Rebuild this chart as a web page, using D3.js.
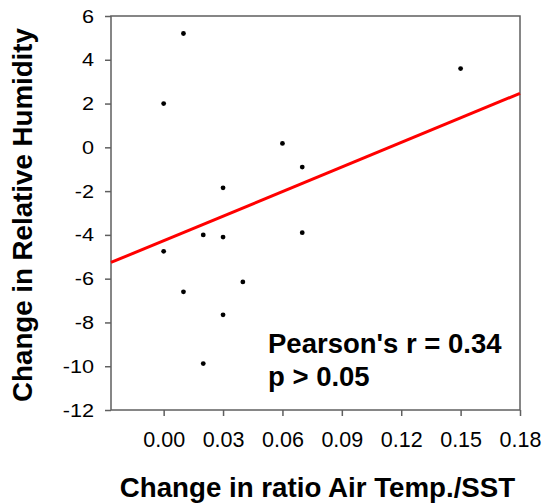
<!DOCTYPE html>
<html>
<head>
<meta charset="utf-8">
<script src="https://cdnjs.cloudflare.com/ajax/libs/d3/7.8.5/d3.min.js"></script>
<style>
  html, body { margin: 0; padding: 0; background: #fff; }
  svg { display: block; }
  text { font-family: "Liberation Sans", Arial, sans-serif; fill: #000; }
</style>
</head>
<body>
<svg id="chart" width="546" height="504"></svg>
<script>
// ---- data ----
const xValues = [0.01, 0.00, 0.15, 0.06, 0.07, 0.03, 0.02, 0.03, 0.07, 0.00, 0.01, 0.04, 0.03, 0.02];
const yValues = [5.2, 2.0, 3.6, 0.18, -0.9, -1.85, -4.0, -4.1, -3.9, -4.75, -6.6, -6.15, -7.65, -9.88];
const xTicks = [0.00, 0.03, 0.06, 0.09, 0.12, 0.15, 0.18];
const yTicks = [6, 4, 2, 0, -2, -4, -6, -8, -10, -12];
const xDomain = [-0.0266, 0.18];
const yDomain = [-12, 6];
const fitIntercept = -4.265;
const fitSlope = 37.4;
const annotation = ["Pearson's r = 0.34", "p > 0.05"];
const xTitle = "Change in ratio Air Temp./SST";
const yTitle = "Change in Relative Humidity";

// ---- layout ----
const mLeft = 111, mRight = 520, mTop = 16, mBottom = 410;
const svg = d3.select("#chart");

const x = d3.scaleLinear().domain(xDomain).range([mLeft, mRight]);
const y = d3.scaleLinear().domain(yDomain).range([mBottom, mTop]);

const axisColor = "#5f5f5f";

// frame
svg.append("rect")
  .attr("x", mLeft).attr("y", mTop)
  .attr("width", mRight - mLeft).attr("height", mBottom - mTop)
  .attr("fill", "none").attr("stroke", axisColor).attr("stroke-width", 1.5);

// y axis
const ySx = 1.14;
const gy = svg.append("g").attr("transform", `translate(${mLeft},0)`)
  .call(d3.axisLeft(y).tickValues(yTicks).tickSize(6).tickPadding(11).tickFormat(d => String(d)));
gy.select(".domain").remove();
gy.selectAll(".tick line").attr("stroke", axisColor).attr("stroke-width", 1.5);
gy.selectAll(".tick text")
  .attr("font-size", 19).attr("font-family", "Liberation Sans, Arial, sans-serif").attr("fill", "#000")
  .attr("x", -17 / ySx).attr("transform", `scale(${ySx},1)`);

// x axis
const gx = svg.append("g").attr("transform", `translate(0,${mBottom})`)
  .call(d3.axisBottom(x).tickValues(xTicks).tickSize(6).tickPadding(16).tickFormat(d3.format(".2f")));
gx.select(".domain").remove();
gx.selectAll(".tick line").attr("stroke", axisColor).attr("stroke-width", 1.5);
gx.selectAll(".tick text").attr("font-size", 21.5).attr("font-family", "Liberation Sans, Arial, sans-serif").attr("fill", "#000");

// regression line
const x0 = xDomain[0], x1 = xDomain[1];
svg.append("line")
  .attr("x1", x(x0)).attr("y1", y(fitIntercept + fitSlope * x0))
  .attr("x2", x(x1)).attr("y2", y(fitIntercept + fitSlope * x1))
  .attr("stroke", "#ff0000").attr("stroke-width", 3);

// points
svg.append("g").selectAll("circle")
  .data(xValues.map((v, i) => [v, yValues[i]]))
  .join("circle")
  .attr("cx", d => x(d[0])).attr("cy", d => y(d[1]))
  .attr("r", 2.4).attr("fill", "#000");

// annotation
svg.append("text").attr("x", 268).attr("y", 353)
  .attr("font-size", 27.5).attr("font-weight", "bold").text(annotation[0]);
svg.append("text").attr("x", 268).attr("y", 386)
  .attr("font-size", 27.5).attr("font-weight", "bold").text(annotation[1]);

// axis titles
svg.append("text").attr("x", (mLeft + mRight) / 2 + 2).attr("y", 497)
  .attr("text-anchor", "middle").attr("font-size", 27.7).attr("font-weight", "bold").text(xTitle);
svg.append("text")
  .attr("transform", `translate(32,215) rotate(-90)`)
  .attr("text-anchor", "middle").attr("font-size", 27.7).attr("font-weight", "bold").text(yTitle);
</script>
</body>
</html>
